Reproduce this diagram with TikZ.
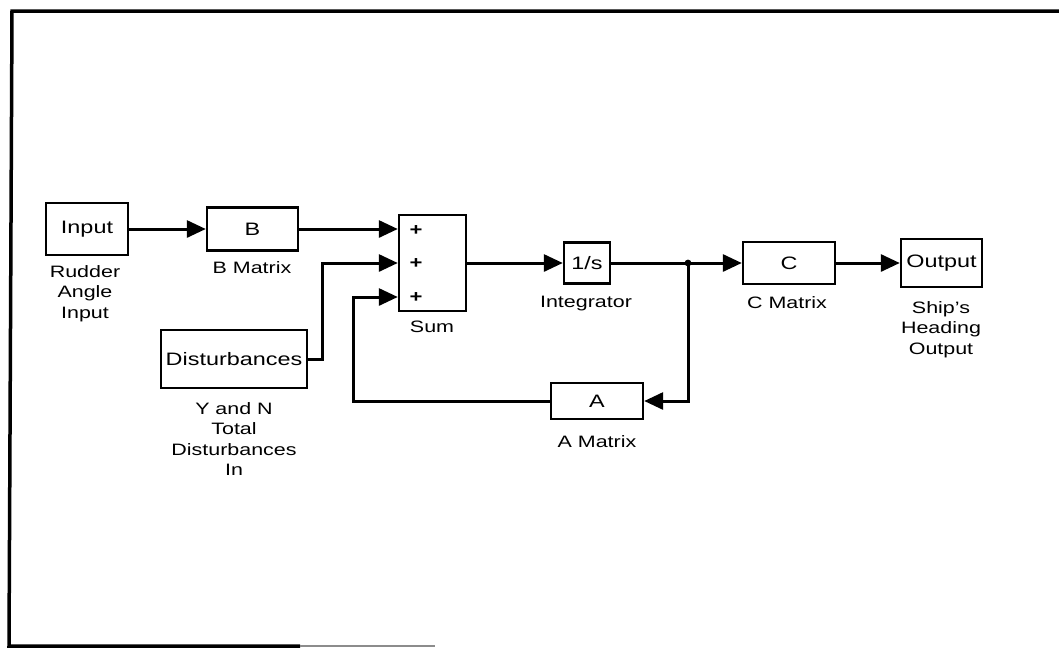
\documentclass[tikz,border=0pt]{standalone}
\usepackage{fontspec}
\setmainfont{Liberation Sans}[FakeStretch=1.3]
\usetikzlibrary{arrows.meta,calc}
\begin{document}
\begin{tikzpicture}[x=1pt,y=-1pt,
  blk/.style={draw,line width=2.4pt,inner sep=0pt,font=\fontsize{18}{21}\selectfont},
  wire/.style={line width=3pt,-{Triangle[length=19pt,width=17pt]}},
  line/.style={line width=3pt},
  lbl/.style={anchor=north,inner sep=0pt,align=center,font=\fontsize{16.5}{20.5}\selectfont},
  plus/.style={inner sep=0pt,font=\fontsize{17}{18}\selectfont\bfseries}]
\useasboundingbox (0,0) rectangle (1059,649);
% frame
\draw[line width=3.5pt] (1059,11) -- (12,11) -- (9,646) -- (300,646);
\draw[line width=2pt,black!45] (300,646) -- (435,646);
% blocks
\node[blk,minimum width=82pt,minimum height=52pt] (inp) at (87,229) {Input};
\node[blk,minimum width=91pt,minimum height=43pt] (B) at (252.5,229) {B};
\node[blk,minimum width=146pt,minimum height=58pt] (dist) at (234,359) {Disturbances};
\node[blk,minimum width=67pt,minimum height=96pt] (sum) at (432.5,263) {};
\node[plus] (p1) at (416,231) {+};
\node[plus] (p2) at (416,264) {+};
\node[plus] (p3) at (416,298) {+};
\node[blk,minimum width=46pt,minimum height=41pt] (int) at (587,263) {1/s};
\node[blk,minimum width=92pt,minimum height=36pt] (A) at (597,401) {A};
\node[blk,minimum width=92pt,minimum height=42pt] (C) at (789,263) {C};
\node[blk,minimum width=81pt,minimum height=48pt] (out) at (941.5,263) {Output};
% labels
\node[lbl] (l1) at (85,265) {Rudder\\Angle\\Input};
\node[lbl] (l2) at (252,261) {B Matrix};
\node[lbl] (l3) at (432,321) {Sum};
\node[lbl] (l4) at (586,296) {Integrator};
\node[lbl] (l5) at (597,435) {A Matrix};
\node[lbl] (l6) at (787,296) {C Matrix};
\node[lbl] (l7) at (941,301) {Ship's\\Heading\\Output};
\node[lbl] (l8) at (234,402) {Y and N\\Total\\Disturbances\\In};
% connectors
\coordinate (sin3) at ($(sum.west)+(0,34)$);
\coordinate (br) at (688,263);
\draw[wire] (inp.east) -- (B.west);
\draw[wire] (B.east) -- (B.east -| sum.west);
\draw[wire] (dist.east) -- ++(14,0) |- (sum.west);
\draw[wire] (sum.east) -- (int.west);
\draw[line] (int.east) -- (br);
\draw[wire] (br) -- (C.west);
\fill (br) circle (3.4pt);
\draw[wire] (br) |- (A.east);
\draw[wire] (A.west) -- ++(-196,0) |- (sin3);
\draw[wire] (C.east) -- (out.west);
\end{tikzpicture}
\end{document}
